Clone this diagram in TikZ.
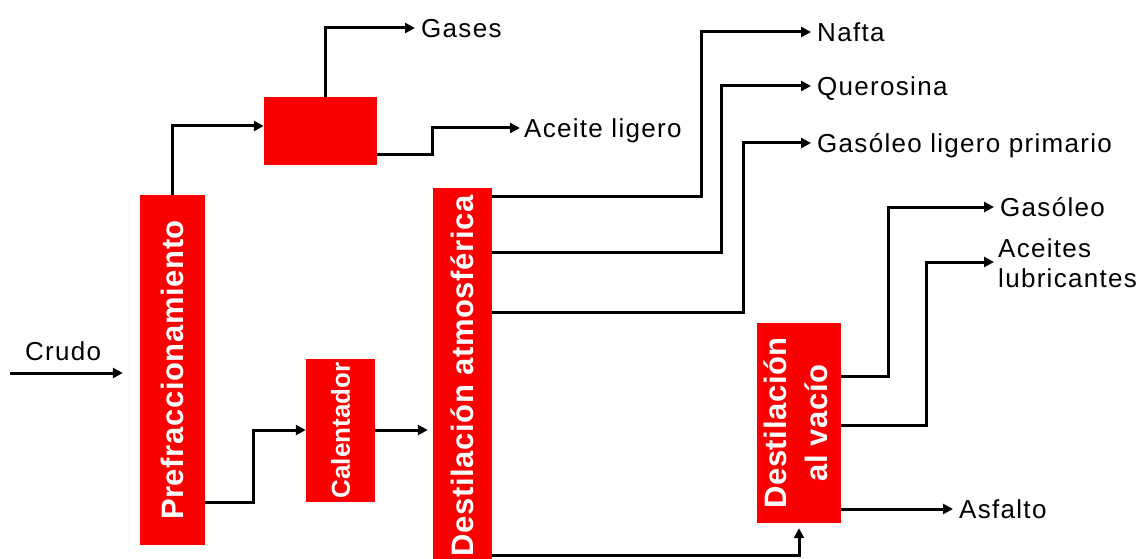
\documentclass[tikz,border=0pt]{standalone}
\usepackage{fontspec}
\setmainfont{Liberation Sans}
\newfontfamily\labfont{Liberation Sans}[LetterSpace=5]
\newfontfamily\boxfont{Liberation Sans}[LetterSpace=2]
\newfontfamily\calfont{Liberation Sans}
\usetikzlibrary{arrows.meta}
\definecolor{boxred}{RGB}{250,0,0}
\begin{document}
\begin{tikzpicture}[x=1pt,y=-1pt,
  redbox/.style={fill=boxred, draw=none, inner sep=0pt, text=white,
    font=\boxfont\bfseries\fontsize{31}{41}\selectfont},
  lab/.style={font=\labfont\fontsize{26}{30}\selectfont, inner xsep=6pt, inner ysep=0pt,
    text height=18.5pt, text depth=0pt, anchor=west},
  flow/.style={line width=3pt, -{Triangle[length=10pt,width=10pt]}},
  wire/.style={line width=3pt}]
\useasboundingbox (0,0) rectangle (1140,559);
\fill[white] (0,0) rectangle (1140,559);

% boxes
\node[redbox, minimum width=65pt, minimum height=350pt] (pre) at (172.5,370) {\rotatebox{90}{Prefraccionamiento}};
\node[redbox, minimum width=113pt, minimum height=68pt] (frac) at (320.5,131) {};
\node[redbox, minimum width=69pt, minimum height=143pt, font=\calfont\bfseries\fontsize{26}{30}\selectfont] (cal) at (340.5,430.5) {\rotatebox{90}{Calentador}};
\node[redbox, minimum width=59pt, minimum height=376pt] (atm) at (462.5,376) {\rotatebox{90}{Destilación atmosférica}};
\node[redbox, minimum width=84pt, minimum height=200pt] (vac) at (799,423) {\rotatebox{90}{\begin{tabular}{@{}c@{}}Destilación\\al vacío\end{tabular}}};

% labels
\node[lab, anchor=base west, inner xsep=0pt] (crudo) at (25,360) {Crudo};
\coordinate (crudoin) at (10,373);
\node[lab] (gases) at (415,28) {Gases};
\node[lab, inner xsep=4pt] (aceite) at (520,128) {Aceite ligero};
\node[lab] (nafta) at (811,32) {Nafta};
\node[lab] (quero) at (811,86) {Querosina};
\node[lab] (glp) at (811,143) {Gasóleo ligero primario};
\node[lab] (gasoleo) at (994,207) {Gasóleo};
\node[lab, anchor=base west, inner xsep=4pt] (aceites) at (994,257) {Aceites};
\node[lab, anchor=base west, inner xsep=4pt] (lubri) at (994,287) {lubricantes};
\node[lab] (asfalto) at (953,509) {Asfalto};

% connectors
\draw[flow, shorten >=17pt] (crudoin) -- (pre.west |- crudoin);
\draw[flow] (pre.north) |- (frac.west |- 0,126);
\draw[flow] (frac.north -| 325,0) |- (gases.west);
\draw[flow] (frac.east |- 0,154) -| (432,128) -- (aceite.west);
\draw[flow] (pre.east |- 0,502) -| (253,430) -- (cal.west |- 0,430);
\draw[flow, shorten >=5pt] (cal.east |- 0,430) -- (atm.west |- 0,430);
\draw[flow] (atm.east |- 0,196) -| (701,32) -- (nafta.west);
\draw[flow] (atm.east |- 0,252) -| (721,86) -- (quero.west);
\draw[flow] (atm.east |- 0,312) -| (743,143) -- (glp.west);
\draw[flow, shorten >=5pt] (atm.east |- 0,555) -| (vac.south);
\draw[flow] (vac.east |- 0,376) -| (888,207) -- (gasoleo.west);
\draw[flow] (vac.east |- 0,425) -| (926,262) -- (aceites.west |- 0,262);
\draw[flow] (vac.east |- 0,509) -- (asfalto.west);
\end{tikzpicture}
\end{document}
